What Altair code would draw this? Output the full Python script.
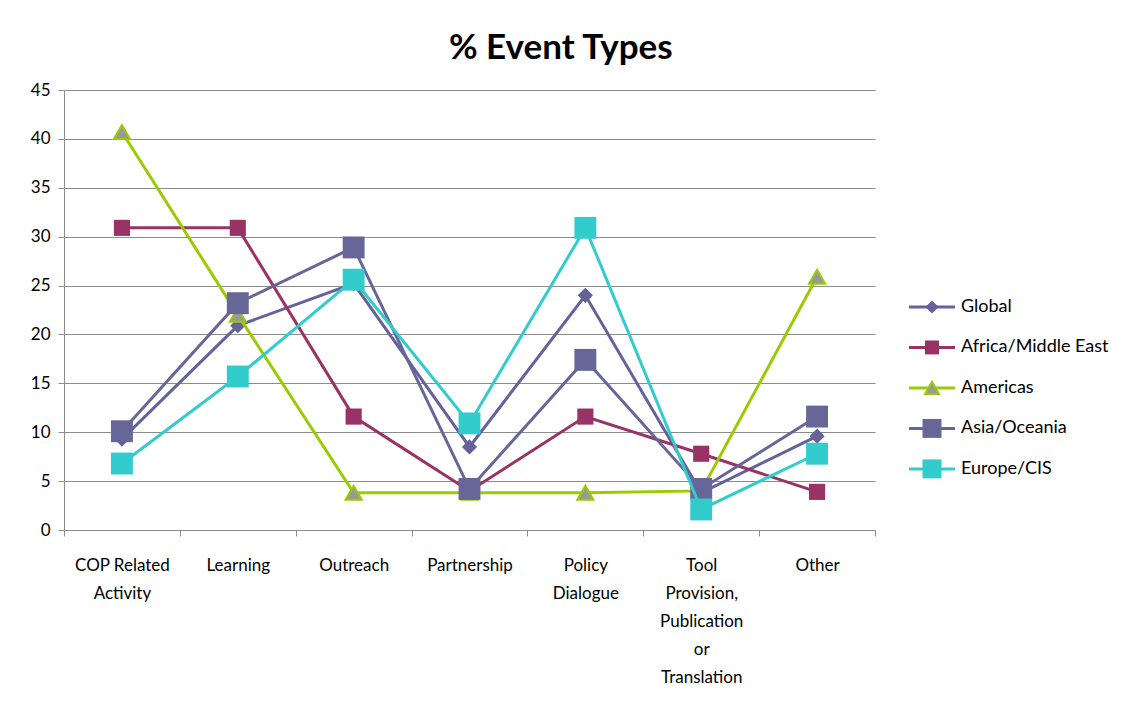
import altair as alt
import pandas as pd

# ---- data ----
category_labels = [
    "COP Related\nActivity", "Learning", "Outreach", "Partnership",
    "Policy\nDialogue", "Tool\nProvision,\nPublication\nor\nTranslation", "Other",
]
series_names = ["Global", "Africa/Middle East", "Americas", "Asia/Oceania", "Europe/CIS"]
global_vals = [9.3, 20.9, 25.2, 8.5, 24.0, 3.8, 9.6]
africa_vals = [30.9, 30.9, 11.6, 4.0, 11.6, 7.8, 3.9]
americas_vals = [40.7, 22.0, 3.8, 3.8, 3.8, 4.0, 25.9]
asia_vals = [10.1, 23.2, 28.9, 4.2, 17.4, 4.2, 11.6]
europe_vals = [6.8, 15.7, 25.6, 10.9, 30.9, 2.1, 7.8]
y_ticks = list(range(0, 46, 5))

values_by_series = [global_vals, africa_vals, americas_vals, asia_vals, europe_vals]

# ---- styles ----
styles = {
    "Global": dict(line="#65619B", shape="diamond", fill="#65619B", stroke="#65619B", size=230, sw=0),
    "Africa/Middle East": dict(line="#993366", shape="square", fill="#993366", stroke="#993366", size=260, sw=0),
    "Americas": dict(line="#99CC00", shape="triangle-up", fill="#999999", stroke="#99CC00", size=260, sw=2),
    "Asia/Oceania": dict(line="#666699", shape="square", fill="#666699", stroke="#666699", size=480, sw=0),
    "Europe/CIS": dict(line="#33CCCC", shape="square", fill="#33CCCC", stroke="#33CCCC", size=480, sw=0),
}

FONT = "Lato"
GRID = "#8C8C8C"

x_enc = alt.X(
    "category:N",
    sort=category_labels,
    scale=alt.Scale(paddingInner=0, paddingOuter=0),
    axis=alt.Axis(
        title=None, labelAngle=0, labelExpr="split(datum.label, '\\n')",
        labelFont=FONT, labelFontSize=17, labelColor="#000000", labelLineHeight=28,
        labelPadding=21, tickBand="extent", ticks=True, tickSize=6, tickColor=GRID,
        domainColor=GRID, grid=False, labelLimit=200,
    ),
)
y_enc = alt.Y(
    "value:Q",
    scale=alt.Scale(domain=[0, 45], nice=False),
    axis=alt.Axis(
        title=None, values=y_ticks, labelFont=FONT, labelFontSize=17, labelColor="#000000",
        tickSize=6, tickColor=GRID, domainColor=GRID, gridColor=GRID, gridWidth=1,
        labelPadding=8, minExtent=51, maxExtent=51,
    ),
)

layers = []
for name, vals in zip(series_names, values_by_series):
    st = styles[name]
    df = pd.DataFrame({"category": category_labels, "value": vals, "series": name})
    base = alt.Chart(df).encode(x=x_enc, y=y_enc)
    layers.append(base.mark_line(color=st["line"], strokeWidth=3))
    layers.append(base.mark_point(
        shape=st["shape"], filled=True, fill=st["fill"], stroke=st["stroke"],
        strokeWidth=st["sw"], size=st["size"], opacity=1,
    ))

main = alt.layer(*layers).properties(width=811, height=440)

# ---- legend built as its own small chart ----
legend_y = alt.Scale(domain=[-5.36, 5.51], reverse=True, nice=False, zero=False)
leg_layers = []
for i, name in enumerate(series_names):
    st = styles[name]
    ldf = pd.DataFrame({"series": [name], "pos": [i]})
    lb = alt.Chart(ldf).encode(y=alt.Y("pos:Q", scale=legend_y, axis=None))
    leg_layers.append(lb.mark_rule(color=st["line"], strokeWidth=3).encode(x=alt.value(0), x2=alt.value(46)))
    leg_layers.append(lb.mark_point(
        shape=st["shape"], filled=True, fill=st["fill"], stroke=st["stroke"],
        strokeWidth=st["sw"], size=st["size"] * 0.75, opacity=1,
    ).encode(x=alt.value(23)))
    leg_layers.append(lb.mark_text(
        align="left", baseline="middle", font=FONT, fontSize=18, color="#000000",
    ).encode(x=alt.value(52), text="series:N"))

legend = alt.layer(*leg_layers).properties(width=150, height=440)

chart = alt.hconcat(main, legend, spacing=31).properties(
    title=alt.TitleParams(
        "% Event Types", font=FONT, fontSize=35, fontWeight="bold", color="#000000",
        anchor="middle", offset=15,
    ),
    padding={"left": 5, "top": 23, "right": 5, "bottom": 5},
    background="#FFFFFF",
).configure_view(stroke=None)

chart.save("out.html", embed_options={"renderer": "svg", "actions": False})
